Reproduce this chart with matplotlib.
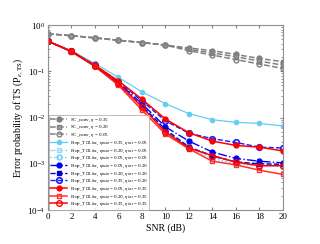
import matplotlib
matplotlib.use("Agg")
import matplotlib.pyplot as plt
from matplotlib.ticker import LogLocator, NullFormatter

plt.rcParams['font.family'] = ['Liberation Serif', 'DejaVu Serif']
plt.rcParams['mathtext.fontset'] = 'stix'

snr = [0, 2, 4, 6, 8, 10, 12, 14, 16, 18, 20]

# conventional scheme
sc_035 = [0.65, 0.59, 0.53, 0.47, 0.42, 0.37, 0.32, 0.28, 0.232, 0.19, 0.162]
sc_020 = [0.65, 0.59, 0.53, 0.47, 0.42, 0.37, 0.30, 0.25, 0.207, 0.167, 0.136]
sc_005 = [0.65, 0.59, 0.53, 0.47, 0.42, 0.37, 0.28, 0.225, 0.18, 0.144, 0.116]

# proposed, eta_test = 0.05
p_035_005 = [0.45, 0.28, 0.148, 0.074, 0.036, 0.0200, 0.0122, 0.0090, 0.0079, 0.0075, 0.0066]
p_020_005 = [0.45, 0.27, 0.130, 0.054, 0.018, 0.0056, 0.0024, 0.0014, 0.0011, 0.0010, 0.00095]
p_005_005 = [0.45, 0.27, 0.130, 0.053, 0.0175, 0.0052, 0.0022, 0.0013, 0.0010, 0.00092, 0.00088]
# proposed, eta_test = 0.20
p_005_020 = [0.45, 0.27, 0.133, 0.057, 0.020, 0.0063, 0.0031, 0.0018, 0.00131, 0.00114, 0.00105]
p_020_020 = [0.45, 0.27, 0.130, 0.053, 0.018, 0.0055, 0.0023, 0.0015, 0.0011, 0.0010, 0.00098]
p_035_020 = [0.45, 0.27, 0.135, 0.060, 0.023, 0.0085, 0.0046, 0.0035, 0.0029, 0.0023, 0.0022]
# proposed, eta_test = 0.35
p_005_035 = [0.45, 0.27, 0.135, 0.062, 0.025, 0.0093, 0.0047, 0.0031, 0.0025, 0.0023, 0.0019]
p_020_035 = [0.45, 0.265, 0.128, 0.050, 0.0145, 0.0044, 0.0021, 0.00114, 0.00095, 0.00073, 0.00059]
p_035_035 = [0.45, 0.27, 0.130, 0.055, 0.017, 0.0049, 0.0022, 0.0015, 0.00109, 0.00091, 0.00091]

def prop_label(tr, te):
    return (r'Prop_T$_{\mathrm{DII\text{-}free}}$, $\eta_{\mathrm{train}}$ = ' + tr +
            r', $\eta_{\mathrm{test}}$ = ' + te)

fig = plt.figure(figsize=(3.2, 2.44), dpi=100)
ax = fig.add_axes([0.15, 0.139, 0.734, 0.758])

gray = '#808080'
ax.plot(snr, sc_035, '--', color=gray, marker='o', ms=3.5, lw=1.1, label=r'SC_conv, $\eta$ = 0.35')
ax.plot(snr, sc_020, '--', color=gray, marker='s', ms=3.2, lw=1.1, mfc='#a0a0a0', label=r'SC_conv, $\eta$ = 0.20')
ax.plot(snr, sc_005, '--', color=gray, marker='o', ms=3.5, lw=1.1, mfc='none', label=r'SC_conv, $\eta$ = 0.05')

lb = '#66ccf2'
ax.plot(snr, p_035_005, '-', color=lb, marker='o', ms=3, lw=0.9, label=prop_label('0.35', '0.05'))
ax.plot(snr, p_020_005, '--', color='#99dcf5', marker='s', ms=3.2, lw=1.0, mfc='none', label=prop_label('0.20', '0.05'))
ax.plot(snr, p_005_005, ':', color=lb, marker='o', ms=3.5, lw=1.0, mfc='none', label=prop_label('0.05', '0.05'))

ax.plot(snr, p_005_020, '-.', color='#0000ff', marker='o', ms=3.5, lw=1.0, label=prop_label('0.05', '0.20'))
ax.plot(snr, p_020_020, '--', color='#0000cc', marker='s', ms=3.2, lw=1.0, label=prop_label('0.20', '0.20'))
ax.plot(snr, p_035_020, '--', color='#1a1aff', marker='o', ms=4, lw=1.0, mfc='none', mew=1.2, label=prop_label('0.35', '0.20'))

ax.plot(snr, p_005_035, '-', color='#ff0000', marker='o', ms=3.5, lw=1.1, label=prop_label('0.05', '0.35'))
ax.plot(snr, p_020_035, '-', color='#ff3030', marker='s', ms=3.5, lw=1.1, mfc='none', label=prop_label('0.20', '0.35'))
ax.plot(snr, p_035_035, '-', color='#ff0000', marker='o', ms=4, lw=1.1, mfc='none', label=prop_label('0.35', '0.35'))

ax.set_yscale('log')
ax.set_xlim(0, 20)
ax.set_ylim(1e-4, 1)
ax.set_xticks(range(0, 21, 2))
ax.yaxis.set_major_locator(LogLocator(base=10, numticks=10))
ax.yaxis.set_minor_locator(LogLocator(base=10, subs=range(2, 10), numticks=10))
ax.yaxis.set_minor_formatter(NullFormatter())
ax.tick_params(which='both', direction='in', top=True, right=True, labelsize=6.5,
               color='#808080', pad=2)
ax.tick_params(which='major', length=2.5)
ax.tick_params(which='minor', length=1.5)
for s in ax.spines.values():
    s.set_color('#909090')
    s.set_linewidth(0.8)

ax.set_xlabel('SNR (dB)', fontsize=7, labelpad=2)
ax.set_ylabel(r'Error probability of TS (P$_{e,\mathrm{TS}}$)', fontsize=7, labelpad=2)

leg = ax.legend(loc='lower left', fontsize=3.6, frameon=True, fancybox=False,
                edgecolor='#a0a0a0', borderaxespad=0.1, labelspacing=0.1,
                handlelength=3.5, handletextpad=0.5, borderpad=0.25)
leg.get_frame().set_linewidth(0.6)

fig.savefig('out.png', dpi=100)
